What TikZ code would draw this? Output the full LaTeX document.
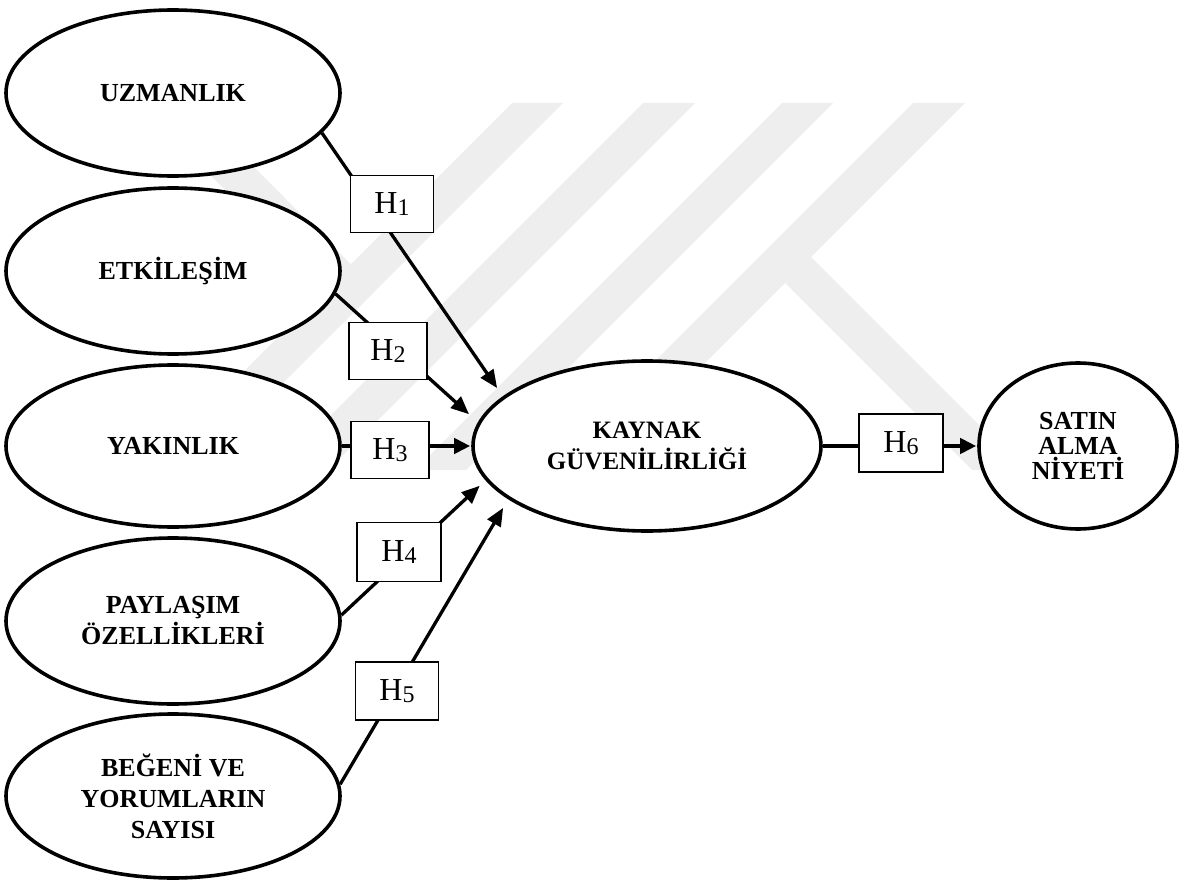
\documentclass[tikz,border=0pt]{standalone}
\usepackage{fontspec}
\setmainfont{Liberation Serif}
\usetikzlibrary{shapes.geometric,arrows.meta}
\definecolor{wm}{RGB}{238,238,238}
\newcommand\hyp[1]{H\raisebox{-2pt}{\fontsize{24}{24}\selectfont #1}}
\begin{document}
\begin{tikzpicture}[x=1pt,y=-1pt,
  construct/.style={ellipse,draw,line width=3.6pt,fill=white,inner sep=0pt,align=center,
    minimum width=334pt,minimum height=166pt,font=\fontsize{26}{31}\selectfont\bfseries},
  hbox/.style={rectangle,draw,line width=1.8pt,fill=white,minimum width=82pt,
    minimum height=57pt,inner sep=0pt,font=\fontsize{32}{32}\selectfont},
  link/.style={line width=3.3pt,-{Triangle[length=18pt,width=15pt]},shorten >=10pt},
  flatlink/.style={line width=4.5pt,-{Triangle[length=16pt,width=15pt]},shorten >=1pt}
]
\useasboundingbox (0,0) rectangle (1179,880);
% watermark
\fill[wm] (512,103) -- (563,103) -- (196,470) -- (145,470) -- cycle;
\fill[wm] (138,103) -- (190,103) -- (376,289.5) -- (350.5,315.5) -- cycle;
\fill[wm] (643,103) -- (695,103) -- (328,470) -- (276,470) -- cycle;
\fill[wm] (782,103) -- (833,103) -- (466,470) -- (415,470) -- cycle;
\fill[wm] (913,103) -- (965,103) -- (598,470) -- (546,470) -- cycle;
\fill[wm] (811,257) -- (1024,470) -- (972,470) -- (785,283) -- cycle;
% constructs
\node[construct] (U) at (173,93) {UZMANLIK};
\node[construct] (E) at (173,271) {ETKİLEŞİM};
\node[construct,minimum height=162pt] (Y) at (173,446) {YAKINLIK};
\node[construct] (P) at (173,621) {PAYLAŞIM\\ÖZELLİKLERİ};
\node[construct,minimum height=164pt] (B) at (173,796) {BEĞENİ VE\\YORUMLARIN\\SAYISI};
\node[construct,minimum width=348pt,minimum height=170pt,font=\fontsize{25}{31}\selectfont\bfseries] (K) at (647,446) {KAYNAK\\GÜVENİLİRLİĞİ};
\node[construct,minimum width=198pt,minimum height=166pt,font=\fontsize{26}{25}\selectfont\bfseries] (S) at (1078,446) {SATIN\\ALMA\\NİYETİ};
% connectors
\draw[link] (U.-15.7) -- (K.161);
\draw[link,shorten >=12pt] (E.-8.6) -- (K.172);
\draw[flatlink] (Y.east) -- (K.west);
\draw[link,shorten >=8pt] (P.2.7) -- (K.-168);
\draw[link] (B.4.1) -- (K.-159);
\draw[flatlink] (K.east) -- (S.west);
% hypothesis boxes
\node[hbox,minimum width=83pt] (H1) at (392,204) {\hyp{1}};
\node[hbox,minimum width=78pt] (H2) at (388,351) {\hyp{2}};
\node[hbox,minimum width=78pt] (H3) at (390,450) {\hyp{3}};
\node[hbox,minimum width=84pt,minimum height=59pt] (H4) at (399,552) {\hyp{4}};
\node[hbox,minimum width=83pt,minimum height=58pt] (H5) at (397,691) {\hyp{5}};
\node[hbox,minimum width=84pt,minimum height=58pt] (H6) at (901,443) {\hyp{6}};
\end{tikzpicture}
\end{document}
